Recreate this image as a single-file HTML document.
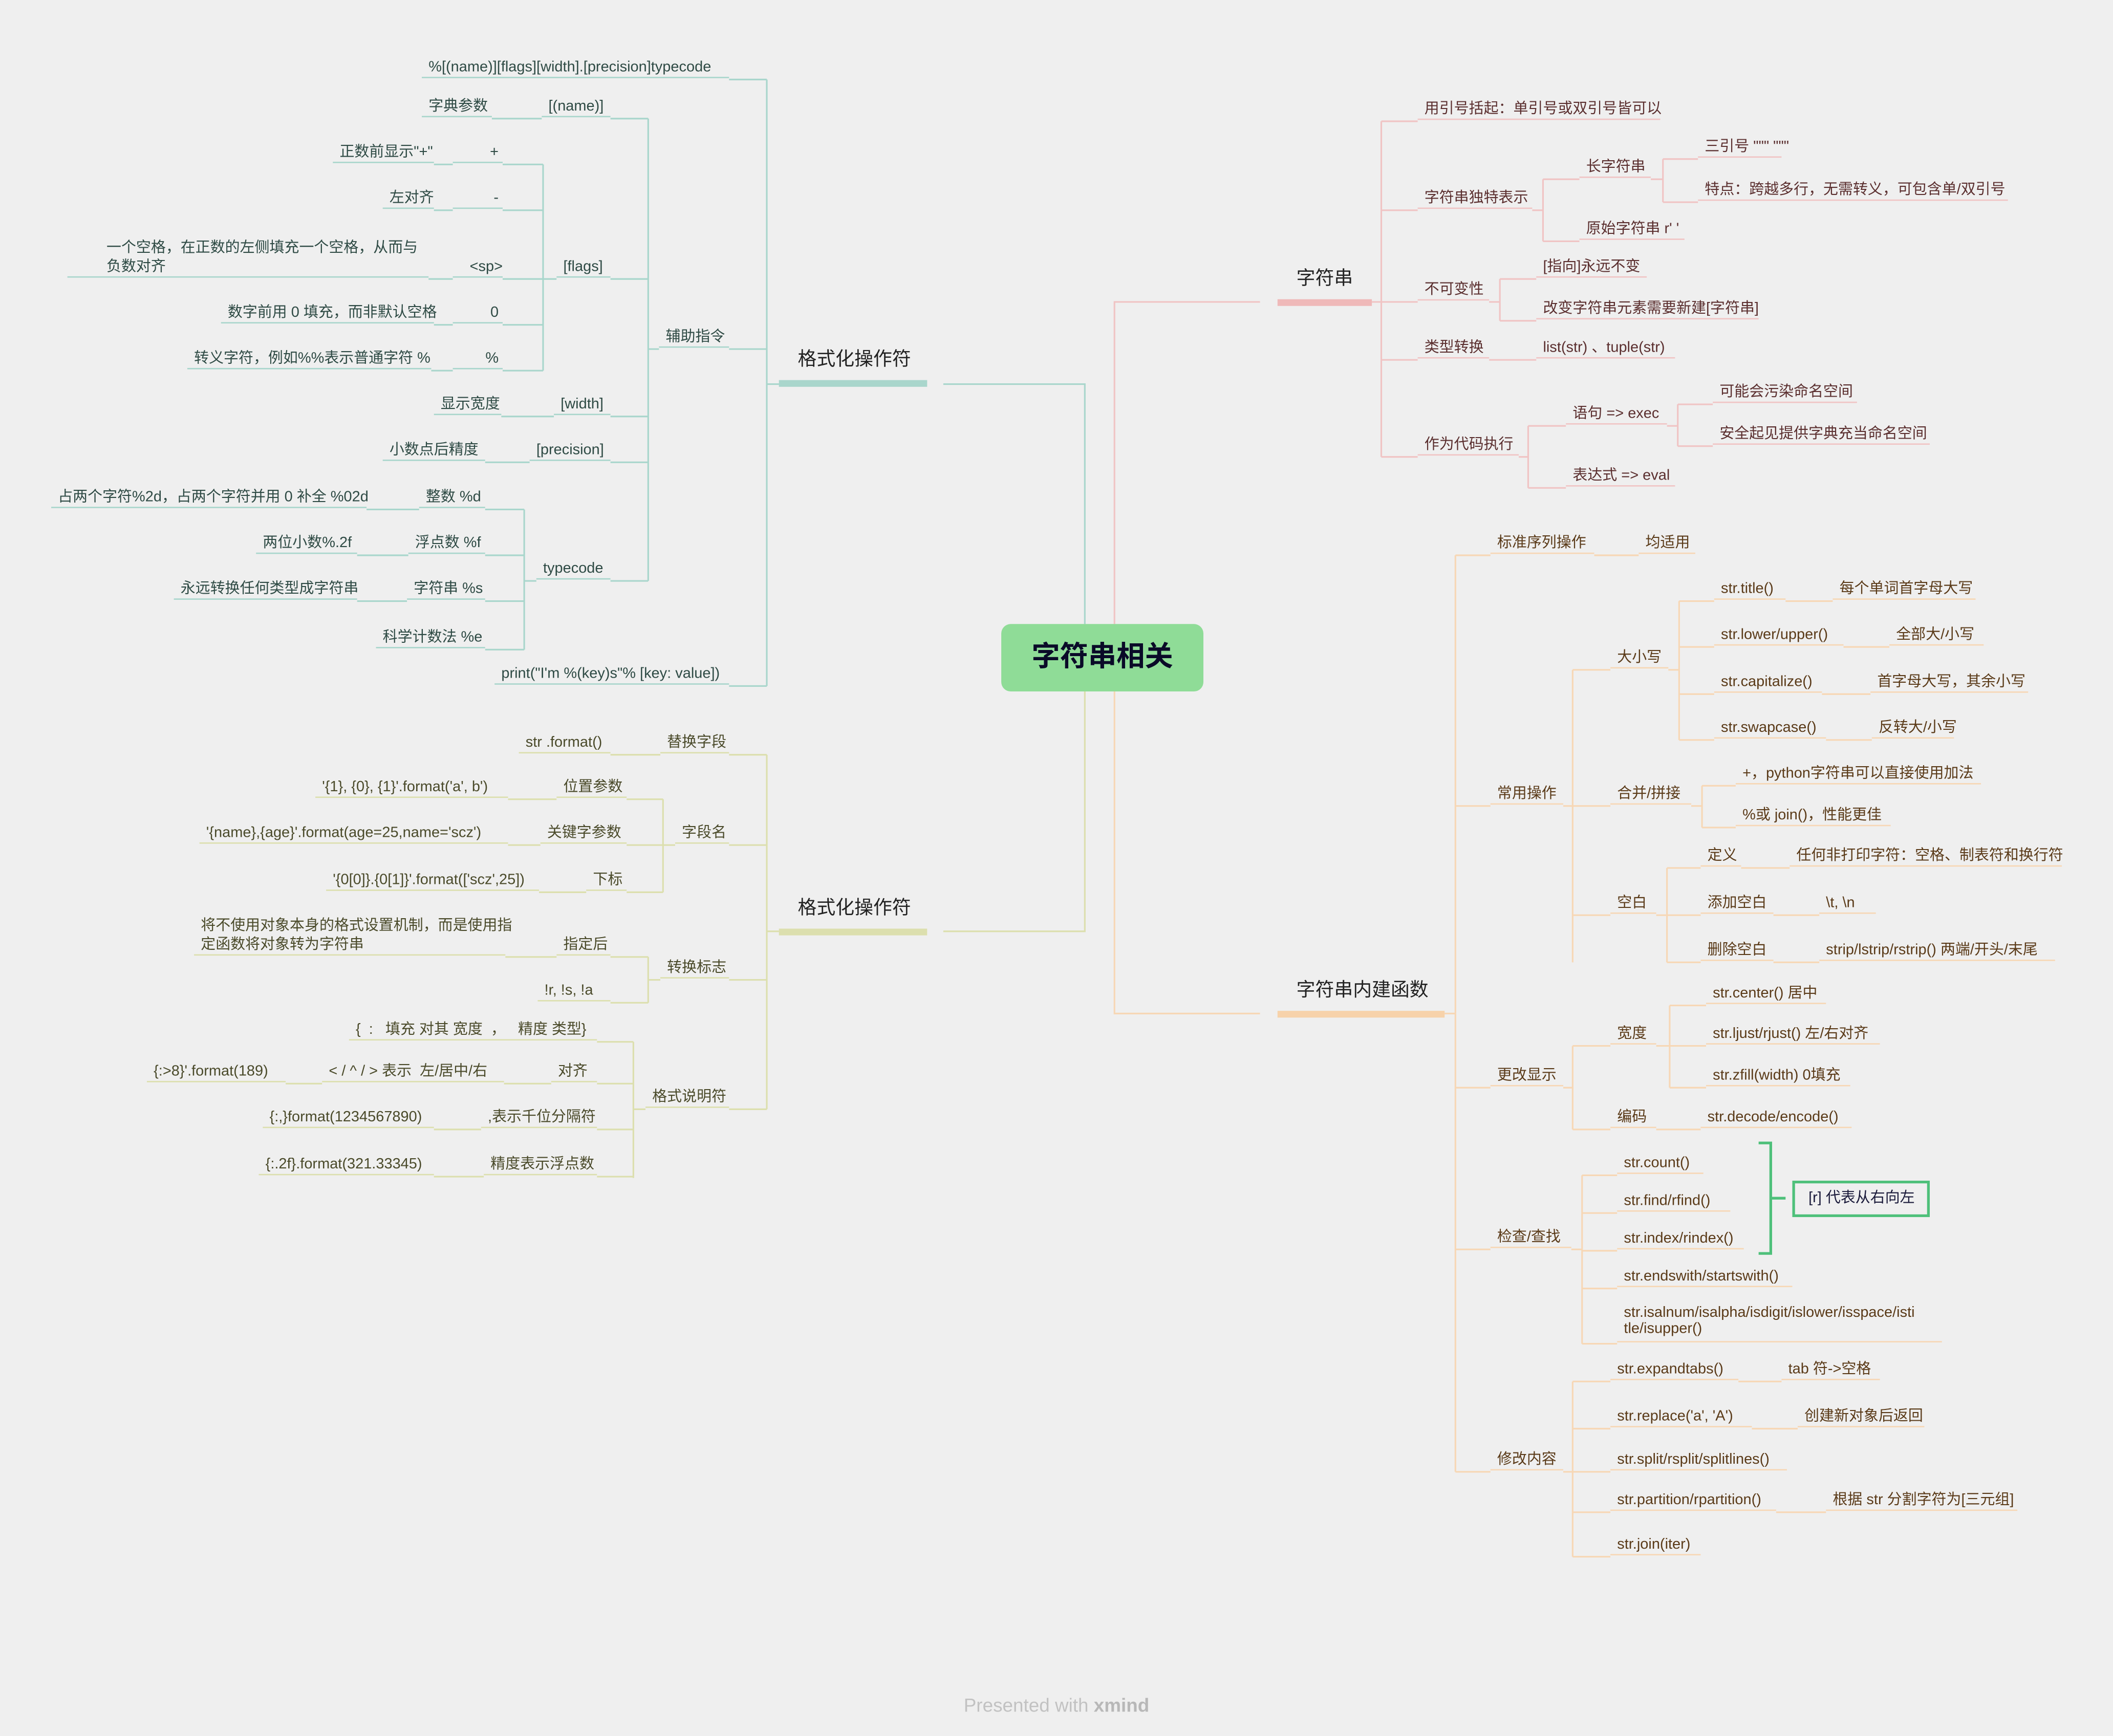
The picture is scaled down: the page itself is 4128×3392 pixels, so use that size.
<!DOCTYPE html>
<html><head><meta charset="utf-8">
<style>
html,body{margin:0;padding:0;background:#efefef;}
body{width:4128px;height:3392px;overflow:hidden;}
#w{position:absolute;left:0;top:0;width:1568px;height:1288px;transform:scale(2.6327,2.6335);transform-origin:0 0;font-family:"Liberation Sans","Noto Sans CJK SC",sans-serif;}
.n{position:absolute;height:15px;box-sizing:border-box;padding-left:5px;line-height:14px;font-size:11px;white-space:nowrap;border-bottom:1.5px solid;}
.n2{height:29px;line-height:14px;}
.t{border-color:#a9d6cc;color:#2e4a44}
.o{border-color:#dcdfae;color:#4a4a2a}
.p{border-color:#f0c4c4;color:#5a2e2e}
.e{border-color:#f7d7b5;color:#5a3a18}
.m{position:absolute;height:31px;box-sizing:border-box;padding-left:14px;line-height:20px;font-size:14px;white-space:nowrap;border-bottom:5px solid;color:#222}
svg{position:absolute;left:0;top:0}
</style></head><body><div id="w">
<svg width="1568" height="1288" fill="none" stroke-width="1.2">
<g stroke="#a9d6cc">
<path d="M805 463 L805 285 L700 285"/>
<path d="M569 59 L569 509 M541 59 H569 M541 259 H569 M541 509 H569 M569 285 H578"/>
<path d="M481 88 L481 431 M481 259 H489 M453 88 H481 M453 207 H481 M453 309 H481 M453 343 H481 M453 431 H481"/>
<path d="M365 88 H402"/>
<path d="M403 122 L403 275 M403 207 H413 M373 122 H403 M373 156 H403 M373 207 H403 M373 241 H403 M373 275 H403"/>
<path d="M322 122 H336 M322 156 H336 M318 207 H336 M322 241 H336 M320 275 H336"/>
<path d="M372 309 H411 M360 343 H393"/>
<path d="M389 378 L389 482 M389 431 H398 M360 378 H389 M360 412 H389 M360 446 H389 M360 482 H389"/>
<path d="M272 378 H311 M265 412 H303 M265 446 H302"/>
</g>
<g stroke="#dcdfae">
<path d="M805 513 L805 691 L700 691"/>
<path d="M569 560 L569 823 M569 691 H578 M541 560 H569 M541 627 H569 M541 727 H569 M541 823 H569"/>
<path d="M453 560 H490"/>
<path d="M492 593 L492 662 M492 627 H501 M465 593 H492 M465 627 H492 M465 662 H492"/>
<path d="M377 593 H413 M377 627 H401 M400 662 H435"/>
<path d="M481 710 L481 744 M481 727 H490 M453 710 H481 M453 744 H481 M375 710 H413"/>
<path d="M470 773 L470 874 M470 823 H479 M443 773 H470 M443 804 H470 M443 838 H470 M443 873 H470"/>
<path d="M374 804 H409 M212 804 H239 M322 838 H357 M322 873 H359"/>
</g>
<g stroke="#f0c4c4">
<path d="M827 463 L827 224 L935 224"/>
<path d="M1025 90 L1025 339 M1018 224 H1025 M1025 90 H1052 M1025 156 H1052 M1025 224 H1052 M1025 267 H1052 M1025 339 H1052"/>
<path d="M1145 133 L1145 179 M1137 156 H1145 M1145 133 H1172 M1145 179 H1172"/>
<path d="M1234 118 L1234 150 M1225 133 H1234 M1234 118 H1260 M1234 150 H1260"/>
<path d="M1113 207 L1113 238 M1105 224 H1113 M1113 207 H1140 M1113 238 H1140"/>
<path d="M1105 267 H1140"/>
<path d="M1134 316 L1134 362 M1127 339 H1134 M1134 316 H1162 M1134 362 H1162"/>
<path d="M1245 300 L1245 331 M1237 316 H1245 M1245 300 H1271 M1245 331 H1271"/>
</g>
<g stroke="#f7d7b5">
<path d="M827 513 L827 752 L935 752"/>
<path d="M1080 412 L1080 1092 M1072 752 H1080 M1080 412 H1106 M1080 598 H1106 M1080 807 H1106 M1080 927 H1106 M1080 1092 H1106"/>
<path d="M1183 412 H1216"/>
<path d="M1167 497 L1167 714 M1160 598 H1167 M1167 497 H1195 M1167 598 H1195 M1167 679 H1195"/>
<path d="M1246 446 L1246 549 M1238 497 H1246 M1246 446 H1272 M1246 480 H1272 M1246 515 H1272 M1246 549 H1272"/>
<path d="M1325 446 H1360 M1368 480 H1402 M1352 515 H1388 M1355 549 H1389"/>
<path d="M1263 583 L1263 614 M1255 598 H1263 M1263 583 H1288 M1263 614 H1288"/>
<path d="M1237 644 L1237 714 M1229 679 H1237 M1237 644 H1262 M1237 679 H1262 M1237 714 H1262"/>
<path d="M1292 644 H1328 M1316 679 H1350 M1316 714 H1350"/>
<path d="M1167 776 L1167 838 M1160 807 H1167 M1167 776 H1195 M1167 838 H1195"/>
<path d="M1239 746 L1239 807 M1229 776 H1239 M1239 746 H1266 M1239 776 H1266 M1239 807 H1266 M1229 838 H1262"/>
<path d="M1174 872 L1174 997 M1166 927 H1174 M1174 872 H1200 M1174 900 H1200 M1174 928 H1200 M1174 956 H1200 M1174 997 H1200"/>
<path d="M1167 1025 L1167 1155 M1160 1092 H1167 M1167 1025 H1195 M1167 1060 H1195 M1167 1092 H1195 M1167 1122 H1195 M1167 1155 H1195"/>
<path d="M1290 1025 H1322 M1300 1060 H1334 M1318 1122 H1355"/>
</g>
<path d="M1305 848 H1314 V930 H1305 M1314 889 H1325" stroke="#4ec07a" stroke-width="2"/>
<rect x="1331" y="877" width="100" height="25" stroke="#4ec07a" stroke-width="2"/>
</svg>
<div style="position:absolute;left:743px;top:463px;width:150px;height:50px;background:#8fdc97;border-radius:7px;text-align:center;line-height:50px;font-size:21px;font-weight:bold;color:#0a0a28">字符串相关</div>
<div style="position:absolute;left:1342px;top:882px;font-size:11px;line-height:14px;color:#1a1a3a">[r] 代表从右向左</div>

<div class="m t" style="left:578px;top:256px;width:110px;border-color:#a9d6cc">格式化操作符</div>
<div class="m o" style="left:578px;top:663px;width:110px;border-color:#dcdfae">格式化操作符</div>
<div class="m p" style="left:948px;top:196px;width:70px;border-color:#efb9b9">字符串</div>
<div class="m e" style="left:948px;top:724px;width:124px;border-color:#f7d2aa">字符串内建函数</div>

<div class="n t" style="left:313px;top:43px;width:228px">%[(name)][flags][width].[precision]typecode</div>
<div class="n t" style="left:489px;top:243px;width:52px">辅助指令</div>
<div class="n t" style="left:367px;top:493px;width:174px">print("I'm %(key)s"% [key: value])</div>
<div class="n t" style="left:402px;top:72px;width:51px">[(name)]</div>
<div class="n t" style="left:413px;top:191px;width:40px">[flags]</div>
<div class="n t" style="left:411px;top:293px;width:42px">[width]</div>
<div class="n t" style="left:393px;top:327px;width:60px">[precision]</div>
<div class="n t" style="left:398px;top:415px;width:55px">typecode</div>
<div class="n t" style="left:313px;top:72px;width:52px">字典参数</div>
<div class="n t" style="left:336px;top:106px;width:37px;text-align:right;padding-right:3px">+</div>
<div class="n t" style="left:336px;top:140px;width:37px;text-align:right;padding-right:3px">-</div>
<div class="n t" style="left:336px;top:191px;width:37px;text-align:right;padding-right:0">&lt;sp&gt;</div>
<div class="n t" style="left:336px;top:225px;width:37px;text-align:right;padding-right:3px">0</div>
<div class="n t" style="left:336px;top:259px;width:37px;text-align:right;padding-right:3px">%</div>
<div class="n t" style="left:247px;top:106px;width:75px">正数前显示"+"</div>
<div class="n t" style="left:284px;top:140px;width:38px">左对齐</div>
<div class="n t n2" style="left:50px;top:177px;width:268px;padding-left:29px">一个空格，在正数的左侧填充一个空格，从而与<br>负数对齐</div>
<div class="n t" style="left:164px;top:225px;width:158px">数字前用 0 填充，而非默认空格</div>
<div class="n t" style="left:139px;top:259px;width:181px">转义字符，例如%%表示普通字符 %</div>
<div class="n t" style="left:322px;top:293px;width:50px">显示宽度</div>
<div class="n t" style="left:284px;top:327px;width:76px">小数点后精度</div>
<div class="n t" style="left:311px;top:362px;width:49px">整数 %d</div>
<div class="n t" style="left:303px;top:396px;width:57px">浮点数 %f</div>
<div class="n t" style="left:302px;top:430px;width:58px">字符串 %s</div>
<div class="n t" style="left:279px;top:466px;width:81px">科学计数法 %e</div>
<div class="n t" style="left:38px;top:362px;width:234px">占两个字符%2d，占两个字符并用 0 补全 %02d</div>
<div class="n t" style="left:190px;top:396px;width:75px">两位小数%.2f</div>
<div class="n t" style="left:129px;top:430px;width:136px">永远转换任何类型成字符串</div>

<div class="n o" style="left:490px;top:544px;width:51px">替换字段</div>
<div class="n o" style="left:385px;top:544px;width:68px">str .format()</div>
<div class="n o" style="left:501px;top:611px;width:40px">字段名</div>
<div class="n o" style="left:413px;top:577px;width:52px">位置参数</div>
<div class="n o" style="left:401px;top:611px;width:64px">关键字参数</div>
<div class="n o" style="left:435px;top:646px;width:30px">下标</div>
<div class="n o" style="left:234px;top:577px;width:143px">'{1}, {0}, {1}'.format('a', b')</div>
<div class="n o" style="left:148px;top:611px;width:229px">'{name},{age}'.format(age=25,name='scz')</div>
<div class="n o" style="left:242px;top:646px;width:158px">'{0[0]}.{0[1]}'.format(['scz',25])</div>
<div class="n o" style="left:490px;top:711px;width:51px">转换标志</div>
<div class="n o" style="left:413px;top:694px;width:40px">指定后</div>
<div class="n o" style="left:399px;top:728px;width:54px">!r, !s, !a</div>
<div class="n o n2" style="left:144px;top:680px;width:231px">将不使用对象本身的格式设置机制，而是使用指<br>定函数将对象转为字符串</div>
<div class="n o" style="left:479px;top:807px;width:62px">格式说明符</div>
<div class="n o" style="left:259px;top:757px;width:184px">{ &nbsp;: &nbsp; 填充 对其 宽度 &nbsp;， &nbsp; 精度 类型}</div>
<div class="n o" style="left:409px;top:788px;width:34px">对齐</div>
<div class="n o" style="left:357px;top:822px;width:86px">,表示千位分隔符</div>
<div class="n o" style="left:359px;top:857px;width:84px">精度表示浮点数</div>
<div class="n o" style="left:239px;top:788px;width:135px">&lt; / ^ / &gt; 表示 &nbsp;左/居中/右</div>
<div class="n o" style="left:109px;top:788px;width:103px">{:&gt;8}'.format(189)</div>
<div class="n o" style="left:195px;top:822px;width:127px">{:,}format(1234567890)</div>
<div class="n o" style="left:192px;top:857px;width:130px">{:.2f}.format(321.33345)</div>

<div class="n p" style="left:1052px;top:74px;width:180px">用引号括起：单引号或双引号皆可以</div>
<div class="n p" style="left:1052px;top:140px;width:85px">字符串独特表示</div>
<div class="n p" style="left:1052px;top:208px;width:53px">不可变性</div>
<div class="n p" style="left:1052px;top:251px;width:53px">类型转换</div>
<div class="n p" style="left:1052px;top:323px;width:75px">作为代码执行</div>
<div class="n p" style="left:1172px;top:117px;width:53px">长字符串</div>
<div class="n p" style="left:1172px;top:163px;width:78px">原始字符串 r' '</div>
<div class="n p" style="left:1260px;top:102px;width:62px">三引号 """ """</div>
<div class="n p" style="left:1260px;top:134px;width:230px">特点：跨越多行，无需转义，可包含单/双引号</div>
<div class="n p" style="left:1140px;top:191px;width:82px">[指向]永远不变</div>
<div class="n p" style="left:1140px;top:222px;width:165px">改变字符串元素需要新建[字符串]</div>
<div class="n p" style="left:1140px;top:251px;width:103px">list(str) 、tuple(str)</div>
<div class="n p" style="left:1162px;top:300px;width:75px">语句 =&gt; exec</div>
<div class="n p" style="left:1162px;top:346px;width:81px">表达式 =&gt; eval</div>
<div class="n p" style="left:1271px;top:284px;width:107px">可能会污染命名空间</div>
<div class="n p" style="left:1271px;top:315px;width:161px">安全起见提供字典充当命名空间</div>

<div class="n e" style="left:1106px;top:396px;width:77px">标准序列操作</div>
<div class="n e" style="left:1216px;top:396px;width:42px">均适用</div>
<div class="n e" style="left:1106px;top:582px;width:54px">常用操作</div>
<div class="n e" style="left:1195px;top:481px;width:43px">大小写</div>
<div class="n e" style="left:1272px;top:430px;width:53px">str.title()</div>
<div class="n e" style="left:1360px;top:430px;width:106px">每个单词首字母大写</div>
<div class="n e" style="left:1272px;top:464px;width:96px">str.lower/upper()</div>
<div class="n e" style="left:1402px;top:464px;width:70px">全部大/小写</div>
<div class="n e" style="left:1272px;top:499px;width:80px">str.capitalize()</div>
<div class="n e" style="left:1388px;top:499px;width:117px">首字母大写，其余小写</div>
<div class="n e" style="left:1272px;top:533px;width:83px">str.swapcase()</div>
<div class="n e" style="left:1389px;top:533px;width:61px">反转大/小写</div>
<div class="n e" style="left:1195px;top:582px;width:60px">合并/拼接</div>
<div class="n e" style="left:1288px;top:567px;width:182px">+，python字符串可以直接使用加法</div>
<div class="n e" style="left:1288px;top:598px;width:115px">%或 join()，性能更佳</div>
<div class="n e" style="left:1195px;top:663px;width:34px">空白</div>
<div class="n e" style="left:1262px;top:628px;width:30px">定义</div>
<div class="n e" style="left:1328px;top:628px;width:202px">任何非打印字符：空格、制表符和换行符</div>
<div class="n e" style="left:1262px;top:663px;width:54px">添加空白</div>
<div class="n e" style="left:1350px;top:663px;width:42px">\t, \n</div>
<div class="n e" style="left:1262px;top:698px;width:54px">删除空白</div>
<div class="n e" style="left:1350px;top:698px;width:175px">strip/lstrip/rstrip() 两端/开头/末尾</div>
<div class="n e" style="left:1106px;top:791px;width:54px">更改显示</div>
<div class="n e" style="left:1195px;top:760px;width:34px">宽度</div>
<div class="n e" style="left:1266px;top:730px;width:89px">str.center() 居中</div>
<div class="n e" style="left:1266px;top:760px;width:129px">str.ljust/rjust() 左/右对齐</div>
<div class="n e" style="left:1266px;top:791px;width:107px">str.zfill(width) 0填充</div>
<div class="n e" style="left:1195px;top:822px;width:34px">编码</div>
<div class="n e" style="left:1262px;top:822px;width:112px">str.decode/encode()</div>
<div class="n e" style="left:1106px;top:911px;width:60px">检查/查找</div>
<div class="n e" style="left:1200px;top:856px;width:64px">str.count()</div>
<div class="n e" style="left:1200px;top:884px;width:84px">str.find/rfind()</div>
<div class="n e" style="left:1200px;top:912px;width:94px">str.index/rindex()</div>
<div class="n e" style="left:1200px;top:940px;width:130px">str.endswith/startswith()</div>
<div class="n e n2" style="left:1200px;top:967px;width:241px;line-height:12px;padding-top:1px">str.isalnum/isalpha/isdigit/islower/isspace/isti<br>tle/isupper()</div>
<div class="n e" style="left:1106px;top:1076px;width:54px">修改内容</div>
<div class="n e" style="left:1195px;top:1009px;width:95px">str.expandtabs()</div>
<div class="n e" style="left:1322px;top:1009px;width:73px">tab 符-&gt;空格</div>
<div class="n e" style="left:1195px;top:1044px;width:105px">str.replace('a', 'A')</div>
<div class="n e" style="left:1334px;top:1044px;width:94px">创建新对象后返回</div>
<div class="n e" style="left:1195px;top:1076px;width:131px">str.split/rsplit/splitlines()</div>
<div class="n e" style="left:1195px;top:1106px;width:123px">str.partition/rpartition()</div>
<div class="n e" style="left:1355px;top:1106px;width:142px">根据 str 分割字符为[三元组]</div>
<div class="n e" style="left:1195px;top:1139px;width:67px">str.join(iter)</div>

<div style="position:absolute;left:0;width:1568px;top:1257px;text-align:center;font-size:14px;color:#c2c2c2">Presented with <b style="color:#b8b8b8">xmind</b></div>
</div></body></html>
